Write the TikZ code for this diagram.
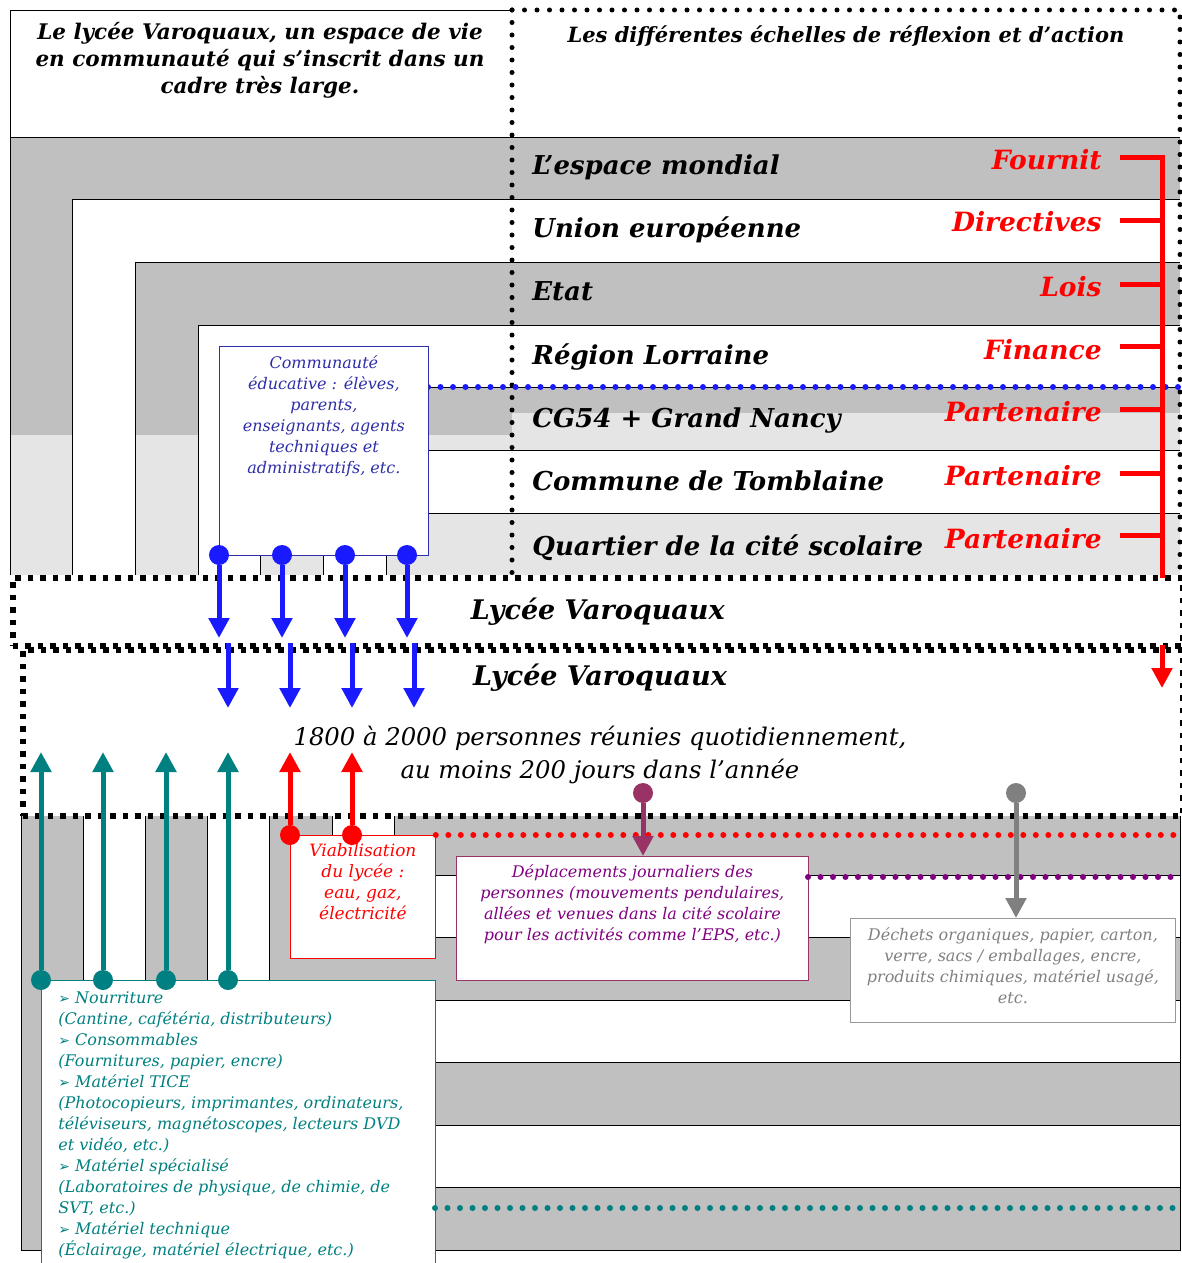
\documentclass[tikz,border=0pt]{standalone}
\usepackage{fontspec}
\setmainfont{DejaVu Serif}
\newfontfamily\bulletfont{DejaVu Sans}
\usetikzlibrary{arrows.meta, positioning}

\definecolor{bandgray}{HTML}{C0C0C0}
\definecolor{redc}{HTML}{FF0000}
\definecolor{bluec}{HTML}{1A1AFF}
\definecolor{navyc}{HTML}{2E2EA8}
\definecolor{tealc}{HTML}{008080}
\definecolor{plumc}{HTML}{993366}
\definecolor{purplec}{HTML}{800080}
\definecolor{grayc}{HTML}{808080}
\definecolor{lightline}{HTML}{999999}

\newcommand{\puce}{{\bulletfont\upshape\fontsize{14}{21}\selectfont ➢}\ }

\begin{document}
\begin{tikzpicture}[
            x = 1pt, y = -1pt, % one unit = one pixel of the sketch
            > = {Triangle[width=20pt, length=20pt]}, % arrow head style
            line width = 0.8pt
        ]

        \tikzstyle{band title}=[anchor=base west, inner sep=0pt, font=\fontsize{26}{30}\selectfont\bfseries\itshape]
        \tikzstyle{action}=[anchor=base east, inner sep=0pt, text=redc, font=\fontsize{26.5}{28}\selectfont\bfseries\itshape]
        \tikzstyle{frame}=[draw, fill=white, inner sep=0pt, anchor=north west]
        \tikzstyle{boxtext}=[anchor=north, align=center, inner sep=0pt, font=\fontsize{16}{21}\selectfont\itshape]
        \tikzstyle{lycee}=[fill=white, draw, line width=5.5pt, dash pattern=on 5.5pt off 7pt, inner sep=0pt, anchor=north west]
        \tikzstyle{flow}=[->, line width=5pt]
        \tikzstyle{pin}=[circle, fill, inner sep=0pt, minimum size=20pt]
        \tikzstyle{dotrow}=[line width=6pt, line cap=round, dash pattern=on 0pt off 12.5pt]

        \fill[white] (0,0) rectangle (1182,1263);
        \useasboundingbox (0,0) rectangle (1182,1263);

        % title boxes
        \draw (512,10) -- (10,10) -- (10,137);
        \node[align=center, font=\fontsize{21.5}{27}\selectfont\bfseries\itshape] (intro) at (260,60)
            {Le lycée Varoquaux, un espace de vie\\ en communauté qui s’inscrit dans un\\ cadre très large.};
        \node[font=\fontsize{21}{27}\selectfont\bfseries\itshape] (scales) at (846,36)
            {Les différentes échelles de réflexion et d’action};

        % nested scales, upper part
        \foreach \i/\col in {0/bandgray,1/white,2/bandgray,3/white,4/bandgray,5/white,6/bandgray}
            \fill[\col] ({10+62.7*\i},{137+62.7*\i}) rectangle (1180,575);
        \fill[white, opacity=0.6] (10,435) rectangle (512,575);
        \fill[white, opacity=0.6] (512,413) rectangle (1180,575);
        \foreach \i in {0,...,6}
            \draw ({10+62.7*\i},575) |- (1180,{137+62.7*\i});

        \draw[dotrow, line width=5pt] (512,10) -- (512,575);
        \draw[dotrow, line width=5pt] (512,10) -- (1180,10) -- (1180,575);
        \draw[dotrow, bluec] (428,387) -- (1180,387);

        \node[band title] (mondial) at (532,174) {L’espace mondial};
        \node[band title] (union) at (532,237) {Union européenne};
        \node[band title] (etat) at (532,300) {Etat};
        \node[band title] (region) at (532,364) {Région Lorraine};
        \node[band title] (cg) at (532,427) {CG54 + Grand Nancy};
        \node[band title] (commune) at (532,490) {Commune de Tomblaine};
        \node[band title] (quartier) at (532,555) {Quartier de la cité scolaire};

        \node[action] (fournit) at (1102,169) {Fournit};
        \node[action] (directives) at (1102,231) {Directives};
        \node[action] (lois) at (1102,296) {Lois};
        \node[action] (finance) at (1102,359) {Finance};
        \node[action] (part1) at (1102,421) {Partenaire};
        \node[action] (part2) at (1102,485) {Partenaire};
        \node[action] (part3) at (1102,548) {Partenaire};

        \coordinate (rtop) at (1120,157);
        \coordinate (rend) at (1162,615);
        \draw[flow, redc] (rtop) -- (1162,157) -- (rend);
        \foreach \y in {220,284,346,409,473,535}
            \draw[redc, line width=5pt] (1120,\y) -- (1162,\y);

        % educational community
        \node[frame, draw=navyc, minimum width=209pt, minimum height=209pt] (commu) at (219,346) {};
        \node[boxtext, text=navyc, below=9pt of commu.north] (commutxt)
            {Communauté\\ éducative : élèves,\\ parents,\\ enseignants, agents\\ techniques et\\ administratifs, etc.};

        % nested scales, lower part
        \foreach \i/\col in {0/bandgray,1/white,2/bandgray,3/white,4/bandgray,5/white,6/bandgray}
            \filldraw[fill=\col] ({21+62.2*\i},813) rectangle (1180,{1250-62.5*\i});

        % the two lycee bands
        \node[lycee, minimum width=1170pt, minimum height=68pt, font=\fontsize{27}{30}\selectfont\bfseries\itshape]
            (lycee1) at (10,575) {Lycée Varoquaux};
        \node[lycee, minimum width=1160pt, minimum height=166pt] (lycee2) at (20,647) {};
        \node[band title, anchor=base, font=\fontsize{27}{30}\selectfont\bfseries\itshape] (lycee2name) at (600,685) {Lycée Varoquaux};
        \node[align=center, font=\fontsize{24.3}{33}\selectfont\itshape] (effectif) at (600,755)
            {1800 à 2000 personnes réunies quotidiennement,\\ au moins 200 jours dans l’année};

        % inputs and outputs
        \node[frame, draw=redc, minimum width=145pt, minimum height=123pt] (viab) at (290,835) {};
        \node[boxtext, text=redc, font=\fontsize{17}{21}\selectfont\itshape, below=8pt of viab.north] (viabtxt)
            {Viabilisation\\ du lycée :\\ eau, gaz,\\ électricité};
        \node[frame, draw=plumc, minimum width=352pt, minimum height=124pt] (depl) at (456,856) {};
        \node[boxtext, text=purplec, below=8pt of depl.north] (depltxt)
            {Déplacements journaliers des\\ personnes (mouvements pendulaires,\\ allées et venues dans la cité scolaire\\ pour les activités comme l’EPS, etc.)};
        \node[frame, draw=lightline, minimum width=325pt, minimum height=104pt] (dechets) at (850,918) {};
        \node[boxtext, text=grayc, below=9pt of dechets.north] (dechetstxt)
            {Déchets organiques, papier, carton,\\ verre, sacs / emballages, encre,\\ produits chimiques, matériel usagé,\\ etc.};
        \node[frame, draw=tealc, minimum width=394pt, minimum height=300pt] (besoins) at (41,980) {};
        \node[boxtext, anchor=north west, align=left, text=tealc] (besoinstxt)
            at ([shift={(17pt,-11pt)}]besoins.north west)
            {\puce Nourriture\\ (Cantine, cafétéria, distributeurs)\\
             \puce Consommables\\ (Fournitures, papier, encre)\\
             \puce Matériel TICE\\ (Photocopieurs, imprimantes, ordinateurs,\\ téléviseurs, magnétoscopes, lecteurs DVD\\ et vidéo, etc.)\\
             \puce Matériel spécialisé\\ (Laboratoires de physique, de chimie, de\\ SVT, etc.)\\
             \puce Matériel technique\\ (Éclairage, matériel électrique, etc.)};

        \draw[dotrow, redc] (viab.north east) -- (1180,835);
        \draw[dotrow, purplec] (808,877) -- (1180,877);
        \draw[dotrow, tealc] (435,1208) -- (1180,1208);

        % arrows
        \foreach \x [count=\i] in {219,282,345,407} {
            \node[pin, bluec] (b\i) at (\x,555) {};
            \coordinate (bt\i) at (\x,638);
            \draw[flow, bluec] (b\i) -- (bt\i);
        }
        \foreach \x [count=\i] in {228,290,352,414} {
            \coordinate (c\i) at (\x,643);
            \coordinate (ct\i) at (\x,708);
            \draw[flow, bluec] (c\i) -- (ct\i);
        }
        \foreach \x [count=\i] in {41,103,166,228} {
            \node[pin, tealc] (t\i) at (\x,980) {};
            \coordinate (tt\i) at (\x,752);
            \draw[flow, tealc] (t\i) -- (tt\i);
        }
        \foreach \x [count=\i] in {290,352} {
            \node[pin, redc] (r\i) at (\x,835) {};
            \coordinate (rt\i) at (\x,752);
            \draw[flow, redc] (r\i) -- (rt\i);
        }
        \node[pin, plumc] (p1) at (643,793) {};
        \draw[flow, plumc] (p1) -- (depl.north -| p1);
        \node[pin, grayc] (g1) at (1016,793) {};
        \draw[flow, grayc] (g1) -- (dechets.north -| g1);
        \coordinate (r2s) at (1162,645);
        \coordinate (r2e) at (1162,688);
        \draw[flow, redc] (r2s) -- (r2e);

    \end{tikzpicture}
\end{document}
